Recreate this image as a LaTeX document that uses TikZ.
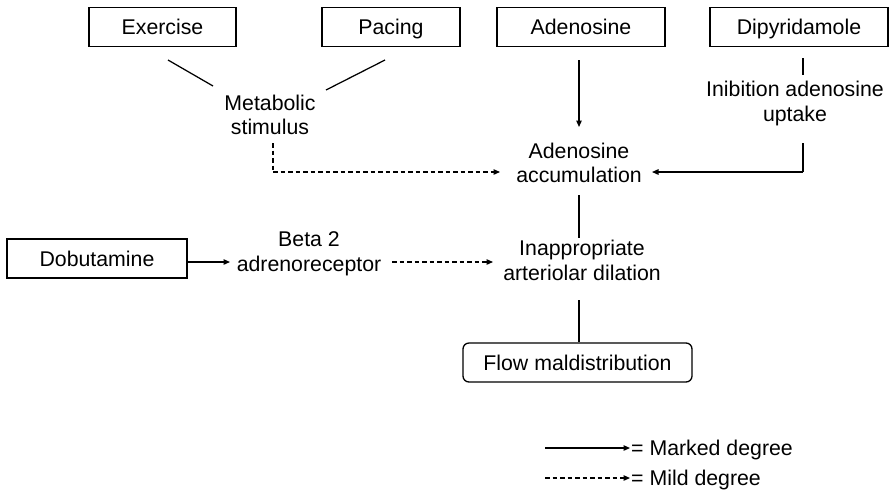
\documentclass[tikz,border=0pt]{standalone}
\usepackage{fontspec}
\setmainfont{Liberation Sans}
\usetikzlibrary{arrows.meta}
\begin{document}
\begin{tikzpicture}[x=1pt,y=-1pt,
  every node/.style={font=\fontsize{21.3}{24.5}\selectfont, inner sep=0pt},
  box/.style={draw, line width=1.3pt, minimum height=39pt, text height=15pt, text depth=0pt},
  rbox/.style={box, rounded corners=6pt},
  lbl/.style={align=center},
  conn/.style={line width=1.25pt},
  arr/.style={conn, -{Triangle[length=6.5pt,width=5.5pt]}},
  darr/.style={arr, dash pattern=on 4.5pt off 3pt},
  dline/.style={conn, dash pattern=on 4.5pt off 3pt}]
\useasboundingbox (0,0) rectangle (890,491);

% boxes
\node[box, minimum width=147pt] (ex) at (162.5,27) {Exercise};
\node[box, minimum width=138pt] (pa) at (391,27) {Pacing};
\node[box, minimum width=168pt] (ad) at (581,27) {Adenosine};
\node[box, minimum width=178pt] (di) at (799,27) {Dipyridamole};
\node[box, minimum width=180pt] (do) at (97,258.5) {Dobutamine};
\node[rbox, minimum width=229pt] (fl) at (577.5,362.5) {Flow maldistribution};

% labels
\node[lbl] (me) at (270,115) {Metabolic\\stimulus};
\node[lbl] (in) at (795,103.5) {Inibition adenosine\\uptake};
\node[lbl] (ac) at (579,163) {Adenosine\\accumulation};
\node[lbl] (ia) at (582,260.5) {Inappropriate\\arteriolar dilation};
\node[lbl] (be) at (309,254) {Beta 2\\adrenoreceptor};

% coordinates for free ends
\coordinate (e1) at (168,60);
\coordinate (e2) at (213,86);
\coordinate (p1) at (385,60);
\coordinate (p2) at (326,90);
\coordinate (m1) at (273,143);
\coordinate (m2) at (273,172);
\coordinate (m3) at (500,172);
\coordinate (a1) at (579,60);
\coordinate (a2) at (579,127);
\coordinate (d1) at (803,58);
\coordinate (d2) at (803,75);
\coordinate (i1) at (803,143);
\coordinate (i2) at (803,172);
\coordinate (i3) at (652,172);
\coordinate (c1) at (579,195);
\coordinate (c2) at (579,238);
\coordinate (b1) at (392,262);
\coordinate (b2) at (493,262);
\coordinate (o1) at (230,262);
\coordinate (f1) at (579,300);

% connectors
\draw[conn] (e1) -- (e2);
\draw[conn] (p1) -- (p2);
\draw[dline] (m1) -- (m2);
\draw[darr] (m2) -- (m3);
\draw[arr] (a1) -- (a2);
\draw[conn] (d1) -- (d2);
\draw[conn] (i1) -- (i2);
\draw[arr] (i2) -- (i3);
\draw[conn] (c1) -- (c2);
\draw[darr] (b1) -- (b2);
\draw[arr] (do.east |- o1) -- (o1);
\draw[conn] (f1) -- (f1 |- fl.north);

% legend
\coordinate (l1) at (545,448);
\coordinate (l2) at (630,448);
\coordinate (l3) at (545,478);
\coordinate (l4) at (630,478);
\draw[arr] (l1) -- (l2);
\draw[darr] (l3) -- (l4);
\node[anchor=base west] (lm) at (631,455) {= Marked degree};
\node[anchor=base west] (ld) at (631,485) {= Mild degree};
\end{tikzpicture}
\end{document}
